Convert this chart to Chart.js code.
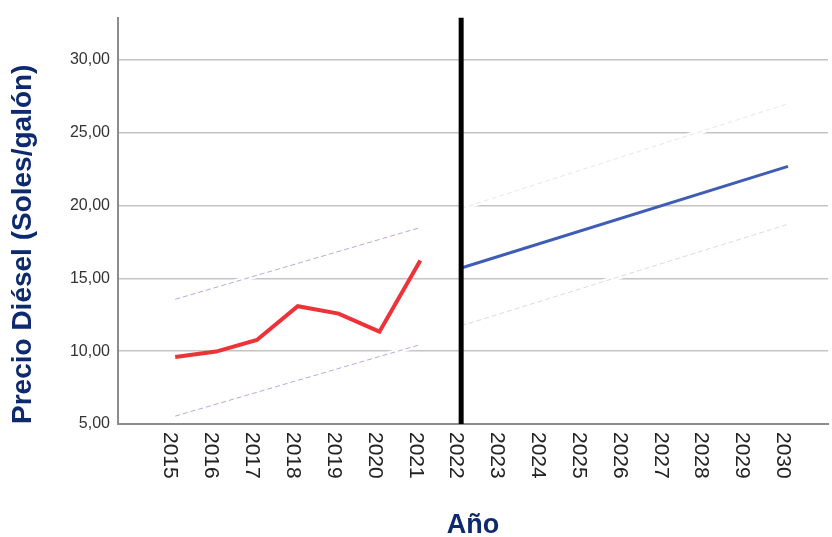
<!DOCTYPE html>
<html>
<head>
<meta charset="utf-8">
<script src="https://cdn.jsdelivr.net/npm/chart.js@4/dist/chart.umd.min.js"></script>
<style>
  html, body { margin: 0; padding: 0; background: #fff; }
  #wrap { width: 832px; height: 537px; }
</style>
</head>
<body>
<div id="wrap"><canvas id="chart"></canvas></div>
<script>
// años y valores
const aniosHist = [2015, 2016, 2017, 2018, 2019, 2020, 2021];
const precioHist = [9.6, 9.97, 10.77, 13.09, 12.58, 11.34, 16.22];
const aniosBandaHist = [2015, 2021];
const limSupHist = [13.56, 18.49];
const limInfHist = [5.54, 10.45];

const aniosPron = [2022, 2030];
const precioPron = [15.71, 22.69];
const limSupPron = [19.8, 27.0];
const limInfPron = [11.74, 18.71];

const anioCorte = 2022;
const xTickLabels = [2015, 2016, 2017, 2018, 2019, 2020, 2021, 2022, 2023, 2024, 2025, 2026, 2027, 2028, 2029, 2030];
const yTickLabels = [5, 10, 15, 20, 25, 30];

const yMin = 5, yMax = 32.9;

const pts = (xs, ys) => xs.map((x, i) => ({ x: x, y: ys[i] }));

const navy = "#0e2a6e";

// etiquetas del eje x giradas 90 grados (lectura de arriba hacia abajo)
const xLabelsPlugin = {
  id: "xLabels",
  afterDraw(chart) {
    const ctx = chart.ctx;
    const xs = chart.scales.x;
    ctx.save();
    ctx.fillStyle = "#222";
    ctx.font = "21px 'Liberation Sans', Arial, sans-serif";
    ctx.textAlign = "left";
    ctx.textBaseline = "middle";
    xTickLabels.forEach((v) => {
      const px = xs.getPixelForValue(v) - 5;
      ctx.save();
      ctx.translate(px, xs.top + 8);
      ctx.rotate(Math.PI / 2);
      ctx.fillText(String(v), 0, 0);
      ctx.restore();
    });
    ctx.restore();
  },
};

const dashed = (data, color, extra) => Object.assign({
  data: data,
  borderColor: color,
  borderWidth: 1,
  borderDash: [5, 3],
  pointRadius: 0,
  fill: false,
  order: 5,
}, extra || {});

const halo = (data) => ({
  data: data,
  borderColor: "#ffffff",
  borderWidth: 5,
  pointRadius: 0,
  fill: false,
  order: 6,
});

const puntoIni = { pointRadius: [1.5, 0], pointBackgroundColor: "#a07cc8", pointBorderWidth: 0 };

new Chart(document.getElementById("chart").getContext("2d"), {
  type: "line",
  data: {
    datasets: [
      {
        label: "corte",
        data: [{ x: anioCorte, y: yMin }, { x: anioCorte, y: yMax }],
        borderColor: "#000",
        borderWidth: 5,
        pointRadius: 0,
        order: 1,
      },
      {
        label: "historico",
        data: pts(aniosHist, precioHist),
        borderColor: "#ee3338",
        borderWidth: 4,
        pointRadius: 0,
        borderJoinStyle: "miter",
        order: 2,
      },
      {
        label: "pronostico",
        data: pts(aniosPron, precioPron),
        borderColor: "#3f5db5",
        borderWidth: 3,
        pointRadius: 0,
        order: 2,
      },
      dashed(pts(aniosBandaHist, limSupHist), "#bba8de"),
      dashed(pts(aniosBandaHist, limInfHist), "#bba8de"),
      dashed(pts(aniosPron, limSupPron), "#ebe5f3", puntoIni),
      dashed(pts(aniosPron, limInfPron), "#e0d6ee", puntoIni),
      halo(pts(aniosBandaHist, limSupHist)),
      halo(pts(aniosBandaHist, limInfHist)),
      halo(pts(aniosPron, limSupPron)),
      halo(pts(aniosPron, limInfPron)),
    ],
  },
  options: {
    responsive: true,
    maintainAspectRatio: false,
    animation: false,
    layout: { padding: { top: 15, right: 0, left: 0, bottom: 0 } },
    plugins: {
      legend: { display: false },
      tooltip: { enabled: false },
    },
    scales: {
      x: {
        type: "linear",
        min: 2013.6,
        max: 2030.98,
        afterFit: (s) => { s.height = 113; },
        ticks: { display: false },
        grid: { display: false },
        border: { display: true, color: "#8c8c8c", width: 2 },
        title: {
          display: true,
          text: "Año",
          color: navy,
          font: { family: "'Liberation Sans', Arial, sans-serif", size: 27, weight: "bold", lineHeight: 0.86 },
          padding: { top: 0, bottom: 0 },
        },
      },
      y: {
        min: yMin,
        max: yMax,
        afterFit: (s) => { s.width = 118; },
        afterBuildTicks: (s) => { s.ticks = yTickLabels.map((v) => ({ value: v })); },
        ticks: {
          color: "#333",
          padding: 8,
          font: { family: "'Liberation Sans', Arial, sans-serif", size: 16 },
          callback: (v) => v.toFixed(2).replace(".", ","),
        },
        grid: { color: "#c4c4c4", lineWidth: 1.5, drawTicks: false },
        border: { display: true, color: "#8c8c8c", width: 2 },
        title: {
          display: true,
          text: "Precio Diésel (Soles/galón)",
          align: "start",
          color: navy,
          font: { family: "'Liberation Sans', Arial, sans-serif", size: 28, weight: "bold", lineHeight: 1.2 },
          padding: { top: 6, bottom: 0 },
        },
      },
    },
  },
  plugins: [xLabelsPlugin],
});
</script>
</body>
</html>
